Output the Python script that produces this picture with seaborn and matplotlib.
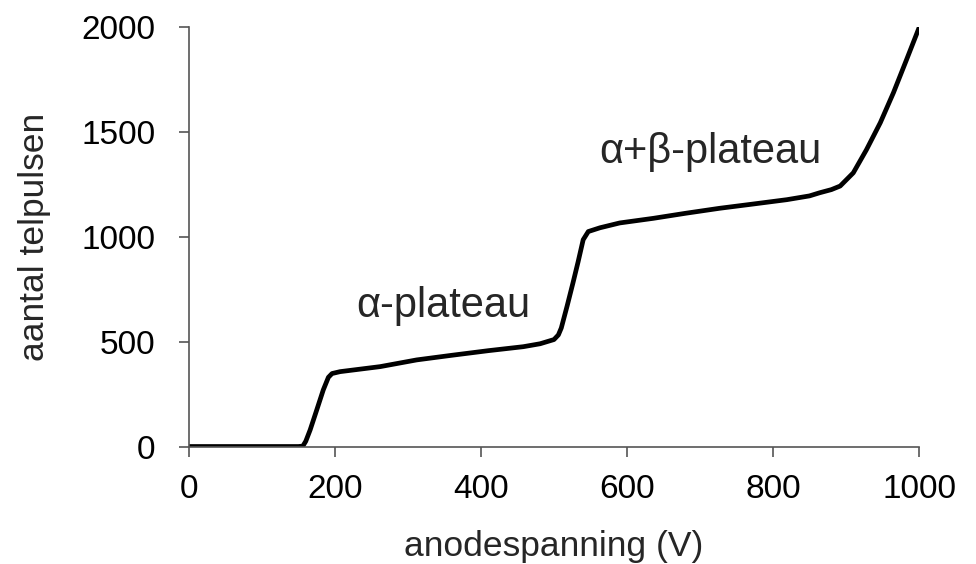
import matplotlib
matplotlib.use("Agg")
import matplotlib.pyplot as plt
import seaborn as sns
import pandas as pd

voltage = [0, 60, 120, 150, 156, 160, 166, 175, 184, 191, 196, 207, 262, 312, 360, 410, 458, 481, 500, 506,
           510, 518, 526, 533, 540, 547, 563, 590, 636, 680, 727, 770, 819, 850, 864, 880, 892,
           910, 928, 947, 965, 983, 1000]
counts = [0, 0, 0, 0, 2, 25, 79, 174, 270, 330, 348, 357, 381, 413, 435, 457, 476, 490, 510, 532,
          565, 670, 780, 880, 986, 1025, 1043, 1066, 1088, 1112, 1136, 1155, 1177, 1195, 1210, 1225, 1242,
          1305, 1415, 1544, 1687, 1845, 1996]

x_ticks = [0, 200, 400, 600, 800, 1000]
y_ticks = [0, 500, 1000, 1500, 2000]
labels = ["α-plateau", "α+β-plateau"]
label_pos = [(349, 618), (714, 1353)]

sns.set_style("ticks")
plt.rcParams['font.family'] = ['Liberation Sans', 'DejaVu Sans']

df = pd.DataFrame({"anodespanning": voltage, "telpulsen": counts})

fig = plt.figure(figsize=(9.76, 5.64), dpi=100)
ax = fig.add_axes([0.1936, 0.2083, 0.748, 0.7437])
sns.lineplot(data=df, x="anodespanning", y="telpulsen", ax=ax, color="black", linewidth=3.4, sort=False)
ax.lines[0].set_solid_joinstyle("round")
ax.lines[0].set_solid_capstyle("round")

ax.set_xlim(0, 1000)
ax.set_ylim(0, 2000)
ax.set_xticks(x_ticks)
ax.set_yticks(y_ticks)
ax.tick_params(axis="both", labelsize=24, length=7, width=1.2, color="#555555", labelcolor="black")
ax.tick_params(axis="x", pad=13)
ax.tick_params(axis="y", pad=17)
for s in ["top", "right"]:
    ax.spines[s].set_visible(False)
for s in ["left", "bottom"]:
    ax.spines[s].set_linewidth(1.2)
    ax.spines[s].set_color("#555555")

ax.set_xlabel("anodespanning (V)", fontsize=25.5, labelpad=18)
ax.set_ylabel("aantal telpulsen", fontsize=25.5, labelpad=22)

for t, (px, py) in zip(labels, label_pos):
    ax.text(px, py, t, fontsize=30, ha="center", va="baseline")

fig.savefig("out.png", dpi=100)
